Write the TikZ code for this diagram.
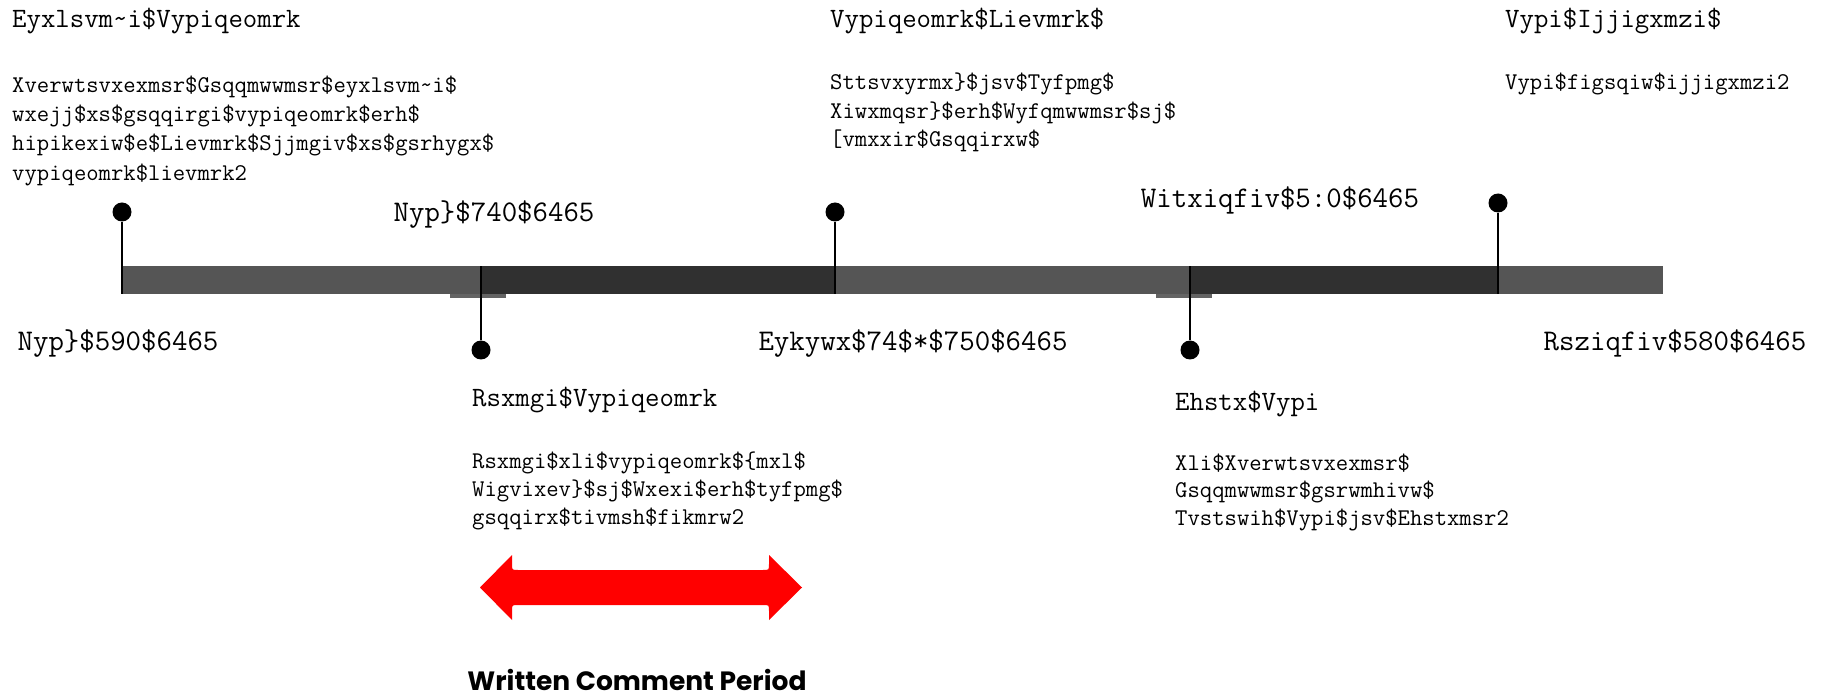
\documentclass[tikz,border=0pt]{standalone}
\usepackage{fontspec}
\newfontfamily\capfont{Poppins}
\definecolor{barGray}{RGB}{85,85,85}
\definecolor{barDark}{RGB}{48,48,48}
\definecolor{tabGray}{RGB}{100,100,100}
\definecolor{arrowRed}{RGB}{255,0,0}
\tikzset{
  txt/.style={anchor=base west, inner sep=0pt, font=\fontsize{24}{28}\selectfont\ttfamily},
  ttl/.style={anchor=base west, inner sep=0pt, font=\fontsize{28}{32}\selectfont\ttfamily},
  lbl/.style={anchor=base, inner sep=0pt, font=\fontsize{30}{34}\selectfont\ttfamily},
  pindot/.style={circle, fill=black, inner sep=0pt, minimum size=19pt},
  stem/.style={draw=black, line width=2pt},
}
\begin{document}
\begin{tikzpicture}[x=1pt,y=-1pt]
\useasboundingbox (0,0) rectangle (1845,700);
% timeline bar
\fill[barGray] (121,266) rectangle (1663,294);
\fill[barDark] (481,266) rectangle (835,294);
\fill[barDark] (1190,266) rectangle (1498,294);
\fill[tabGray] (450,294) rectangle (506,298);
\fill[tabGray] (1156,294) rectangle (1212,298);
% pins
\node[pindot] (d1) at (122,212) {};
\coordinate (b1) at (122,294);
\node[pindot] (d2) at (835,212) {};
\coordinate (b2) at (835,294);
\node[pindot] (d3) at (1498,203) {};
\coordinate (b3) at (1498,294);
\node[pindot] (d4) at (481,350) {};
\coordinate (b4) at (481,266);
\node[pindot] (d5) at (1190,350) {};
\coordinate (b5) at (1190,266);
\draw[stem] (d1) -- (b1);
\draw[stem] (d2) -- (b2);
\draw[stem] (d3) -- (b3);
\draw[stem] (d4) -- (b4);
\draw[stem] (d5) -- (b5);
% block 1
\node[ttl] (t1) at (12,28) {Eyxlsvm\textasciitilde i\$Vypiqeomrk};
\node[txt] (t1a) at (12,93) {Xverwtsvxexmsr\$Gsqqmwwmsr\$eyxlsvm\textasciitilde i\$};
\node[txt] (t1b) at (12,122) {wxejj\$xs\$gsqqirgi\$vypiqeomrk\$erh\$};
\node[txt] (t1c) at (12,151) {hipikexiw\$e\$Lievmrk\$Sjjmgiv\$xs\$gsrhygx\$};
\node[txt] (t1d) at (12,181) {vypiqeomrk\$lievmrk2};
% block 2
\node[ttl] (t2) at (830,28) {Vypiqeomrk\$Lievmrk\$};
\node[txt] (t2a) at (830,90) {Sttsvxyrmx\}\$jsv\$Tyfpmg\$};
\node[txt] (t2b) at (830,118.5) {Xiwxmqsr\}\$erh\$Wyfqmwwmsr\$sj\$};
\node[txt] (t2c) at (830,147) {[vmxxir\$Gsqqirxw\$};
% block 3
\node[ttl] (t3) at (1505,28) {Vypi\$Ijjigxmzi\$};
\node[txt] (t3a) at (1505,90) {Vypi\$figsqiw\$ijjigxmzi2};
% timeline labels
\node[lbl] (l1) at (494,222) {Nyp\}\$740\$6465};
\node[lbl] (l2) at (1280,208) {Witxiqfiv\$5:0\$6465};
\node[lbl] (l3) at (118,351) {Nyp\}\$590\$6465};
\node[lbl] (l4) at (913,351) {Eykywx\$74\$*\$750\$6465};
\node[lbl] (l5) at (1675,351) {Rsziqfiv\$580\$6465};
% block 4
\node[ttl] (t4) at (472,407) {Rsxmgi\$Vypiqeomrk};
\node[txt] (t4a) at (472,468) {Rsxmgi\$xli\$vypiqeomrk\$\{mxl\$};
\node[txt] (t4b) at (472,496) {Wigvixev\}\$sj\$Wxexi\$erh\$tyfpmg\$};
\node[txt] (t4c) at (472,524) {gsqqirx\$tivmsh\$fikmrw2};
% block 5
\node[ttl] (t5) at (1175,410) {Ehstx\$Vypi};
\node[txt] (t5a) at (1175,470) {Xli\$Xverwtsvxexmsr\$};
\node[txt] (t5b) at (1175,497) {Gsqqmwwmsr\$gsrwmhivw\$};
\node[txt] (t5c) at (1175,525) {Tvstswih\$Vypi\$jsv\$Ehstxmsr2};
% red double arrow
\fill[arrowRed] (480,587.5) -- (512,555) -- (512,564) .. controls (512,570) .. (518,570)
  -- (763,570) .. controls (769,570) .. (769,564) -- (769,555) -- (802,587.5)
  -- (769,620) -- (769,611) .. controls (769,605) .. (763,605)
  -- (518,605) .. controls (512,605) .. (512,611) -- (512,620) -- cycle;
\node[anchor=base, inner sep=0pt, font=\capfont\bfseries\fontsize{26.5}{30}\selectfont] (wcp) at (637,690) {Written Comment Period};
\end{tikzpicture}
\end{document}
